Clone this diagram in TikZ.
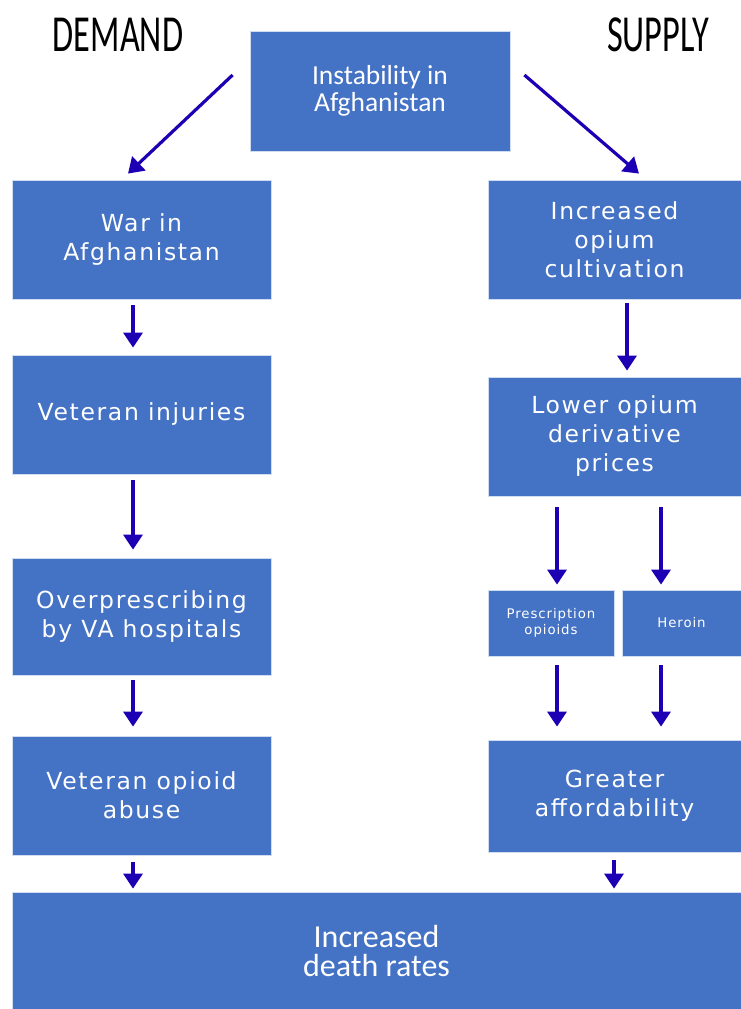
\documentclass[tikz,border=0pt]{standalone}
\usepackage{fontspec}
\usepackage{graphicx}
\usetikzlibrary{arrows.meta}
\setmainfont{DejaVu Sans}[LetterSpace=7]
\newfontfamily\calib{Carlito}
\definecolor{boxblue}{HTML}{4472C4}
\definecolor{arrowblue}{RGB}{30,0,180}
\tikzset{
    box/.style={rectangle, fill=boxblue, draw=white!75!boxblue, line width=0.8pt,
    	text=white, align=center, inner sep=0pt,
    	font=\fontsize{23.5}{29}\selectfont},
    smallbox/.style={box, font=\fontsize{13.3}{16}\selectfont},
    calbox/.style={box, font=\calib\fontsize{27.5}{27}\selectfont},
    arr/.style={draw=arrowblue, line width=3.2pt,
    	-{Triangle[width=19pt,length=15pt]}},
    heading/.style={inner sep=0pt, font=\calib\fontsize{52}{52}\selectfont}
}

\begin{document}
\begin{tikzpicture}[x=1pt, y=-1pt]
	\useasboundingbox (0,0) rectangle (741,1009);
	\node [heading] (dem) at (118,35) {\scalebox{0.66}[1]{DEMAND}};
	\node [heading] (sup) at (658,35) {\scalebox{0.66}[1]{SUPPLY}};
	\node [calbox, minimum width=260, minimum height=120] (inst) at (380,91)
		{Instability in\\Afghanistan};
	% demand column
	\node [box, minimum width=259, minimum height=119] (war) at (141.5,239.5)
		{War in\\Afghanistan};
	\node [box, minimum width=259, minimum height=119] (inj) at (141.5,414.5)
		{Veteran injuries};
	\node [box, minimum width=259, minimum height=117] (over) at (141.5,616.5)
		{Overprescribing\\by VA hospitals};
	\node [box, minimum width=259, minimum height=119] (abuse) at (141.5,795.5)
		{Veteran opioid\\abuse};
	% supply column
	\node [box, minimum width=253, minimum height=119] (cult) at (614.5,239.5)
		{Increased\\opium\\cultivation};
	\node [box, minimum width=253, minimum height=119] (price) at (614.5,436.5)
		{Lower opium\\derivative\\prices};
	\node [smallbox, minimum width=126, minimum height=66] (presc) at (551,623)
		{Prescription\\opioids};
	\node [smallbox, minimum width=119, minimum height=66] (her) at (681.5,623)
		{Heroin};
	\node [box, minimum width=253, minimum height=112] (afford) at (614.5,796)
		{Greater\\affordability};
	\node [box, minimum width=729, minimum height=117,
		font=\calib\fontsize{32}{29}\selectfont] (death) at (376.5,950.5)
		{Increased\\death rates};
	\draw [arr] ([shift={(-17,-16)}]inst.west) -- ([shift={(-13.5,-6)}]war.north);
	\draw [arr] ([shift={(14,-16)}]inst.east) -- ([shift={(24.5,-6)}]cult.north);
	\draw [arr] ([shift={(-8.5,6)}]war.south) -- ([shift={(-8.5,-7)}]inj.north);
	\draw [arr] ([shift={(-8.5,6)}]inj.south) -- ([shift={(-8.5,-8)}]over.north);
	\draw [arr] ([shift={(-8.5,5)}]over.south) -- ([shift={(-8.5,-9)}]abuse.north);
	\draw [arr] ([shift={(-8.5,7)}]abuse.south) -- ([shift={(-243.5,-3)}]death.north);
	\draw [arr] ([shift={(12.5,4)}]cult.south) -- ([shift={(12.5,-6)}]price.north);
	\draw [arr] ([shift={(-57.5,11)}]price.south) -- ([shift={(6,-5)}]presc.north);
	\draw [arr] ([shift={(46.5,11)}]price.south) -- ([shift={(-20.5,-5)}]her.north);
	\draw [arr] ([shift={(6,9)}]presc.south) -- ([shift={(-57.5,-13)}]afford.north);
	\draw [arr] ([shift={(-20.5,9)}]her.south) -- ([shift={(46.5,-13)}]afford.north);
	\draw [arr] ([shift={(-0.5,8)}]afford.south) -- ([shift={(237.5,-3)}]death.north);
\end{tikzpicture}
\end{document}
